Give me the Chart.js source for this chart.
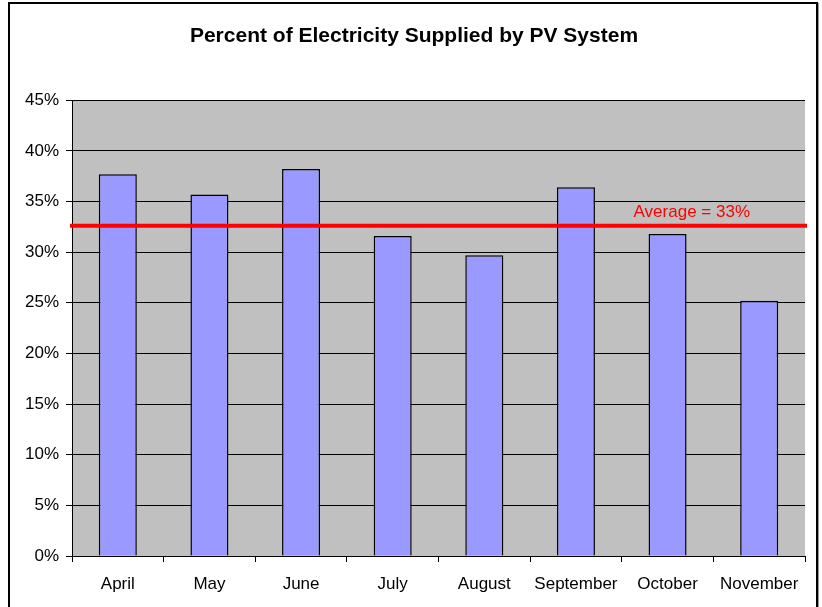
<!DOCTYPE html>
<html>
<head>
<meta charset="utf-8">
<script src="https://cdn.jsdelivr.net/npm/chart.js@4"></script>
<style>
  body { margin: 0; background: #fff; }
  #wrap { position: relative; width: 822px; height: 607px; }
  #frame { position: absolute; left: 8px; top: 2px; width: 806px; height: 620px;
           border: 2px solid #000; box-shadow: 1px 1px 0 #999; pointer-events: none; }
</style>
</head>
<body>
<div id="wrap">
  <canvas id="pvChart" width="822" height="607"></canvas>
  <div id="frame"></div>
</div>
<script>
const months = ["April", "May", "June", "July", "August", "September", "October", "November"];
const percentSupplied = [37.7, 35.7, 38.2, 31.6, 29.7, 36.4, 31.8, 25.2];
const yTicks = [0, 5, 10, 15, 20, 25, 30, 35, 40, 45];
const averageValue = 32.6;
const averageLabel = "Average = 33%";

const FONT = "'Liberation Sans', Arial, sans-serif";

const plotBackground = {
    id: "plotBackground",
    beforeDraw(chart) {
        const { ctx, chartArea: a } = chart;
        ctx.save();
        ctx.fillStyle = "#C0C0C0";
        ctx.fillRect(a.left, a.top, a.right - a.left, a.bottom - a.top);
        ctx.restore();
    }
};

const averageLine = {
    id: "averageLine",
    afterDatasetsDraw(chart) {
        const { ctx, chartArea: a } = chart;
        const y = chart.scales.y.getPixelForValue(averageValue);
        ctx.save();
        ctx.strokeStyle = "#FF0000";
        ctx.lineWidth = 4;
        ctx.beginPath();
        ctx.moveTo(a.left - 2, y);
        ctx.lineTo(a.right + 2, y);
        ctx.stroke();
        ctx.fillStyle = "#FF0000";
        ctx.font = "17px " + FONT;
        ctx.textAlign = "right";
        ctx.textBaseline = "alphabetic";
        ctx.fillText(averageLabel, a.right - 55, y - 9);
        ctx.restore();
    }
};

new Chart(document.getElementById("pvChart"), {
    type: "bar",
    data: {
        labels: months,
        datasets: [{
            data: percentSupplied,
            backgroundColor: "#9999FF",
            borderColor: "#000000",
            borderWidth: 1.5,
            categoryPercentage: 1,
            barPercentage: 0.415
        }]
    },
    options: {
        responsive: false,
        animation: false,
        layout: { padding: { left: 23, right: 17, top: 0, bottom: 0 } },
        plugins: {
            legend: { display: false },
            tooltip: { enabled: false },
            title: {
                display: true,
                text: "Percent of Electricity Supplied by PV System",
                color: "#000",
                font: { family: FONT, size: 21, weight: "bold" },
                padding: { top: 24, bottom: 51 }
            }
        },
        scales: {
            x: {
                offset: true,
                grid: { offset: true, drawOnChartArea: false, drawTicks: true, tickLength: 6, color: "#000" },
                border: { display: true, color: "#000", width: 1 },
                ticks: { color: "#000", font: { family: FONT, size: 17 }, padding: 12 },
                afterFit(scale) { scale.height = 51; }
            },
            y: {
                min: 0,
                max: 45,
                afterBuildTicks(scale) { scale.ticks = yTicks.map(v => ({ value: v })); },
                grid: { color: "#000", lineWidth: 1, tickLength: 6 },
                border: { display: true, color: "#000", width: 1 },
                ticks: { color: "#000", font: { family: FONT, size: 17 }, padding: 7,
                         callback: v => v + "%" },
                afterFit(scale) { scale.width = 49; }
            }
        }
    },
    plugins: [plotBackground, averageLine]
});
</script>
</body>
</html>
